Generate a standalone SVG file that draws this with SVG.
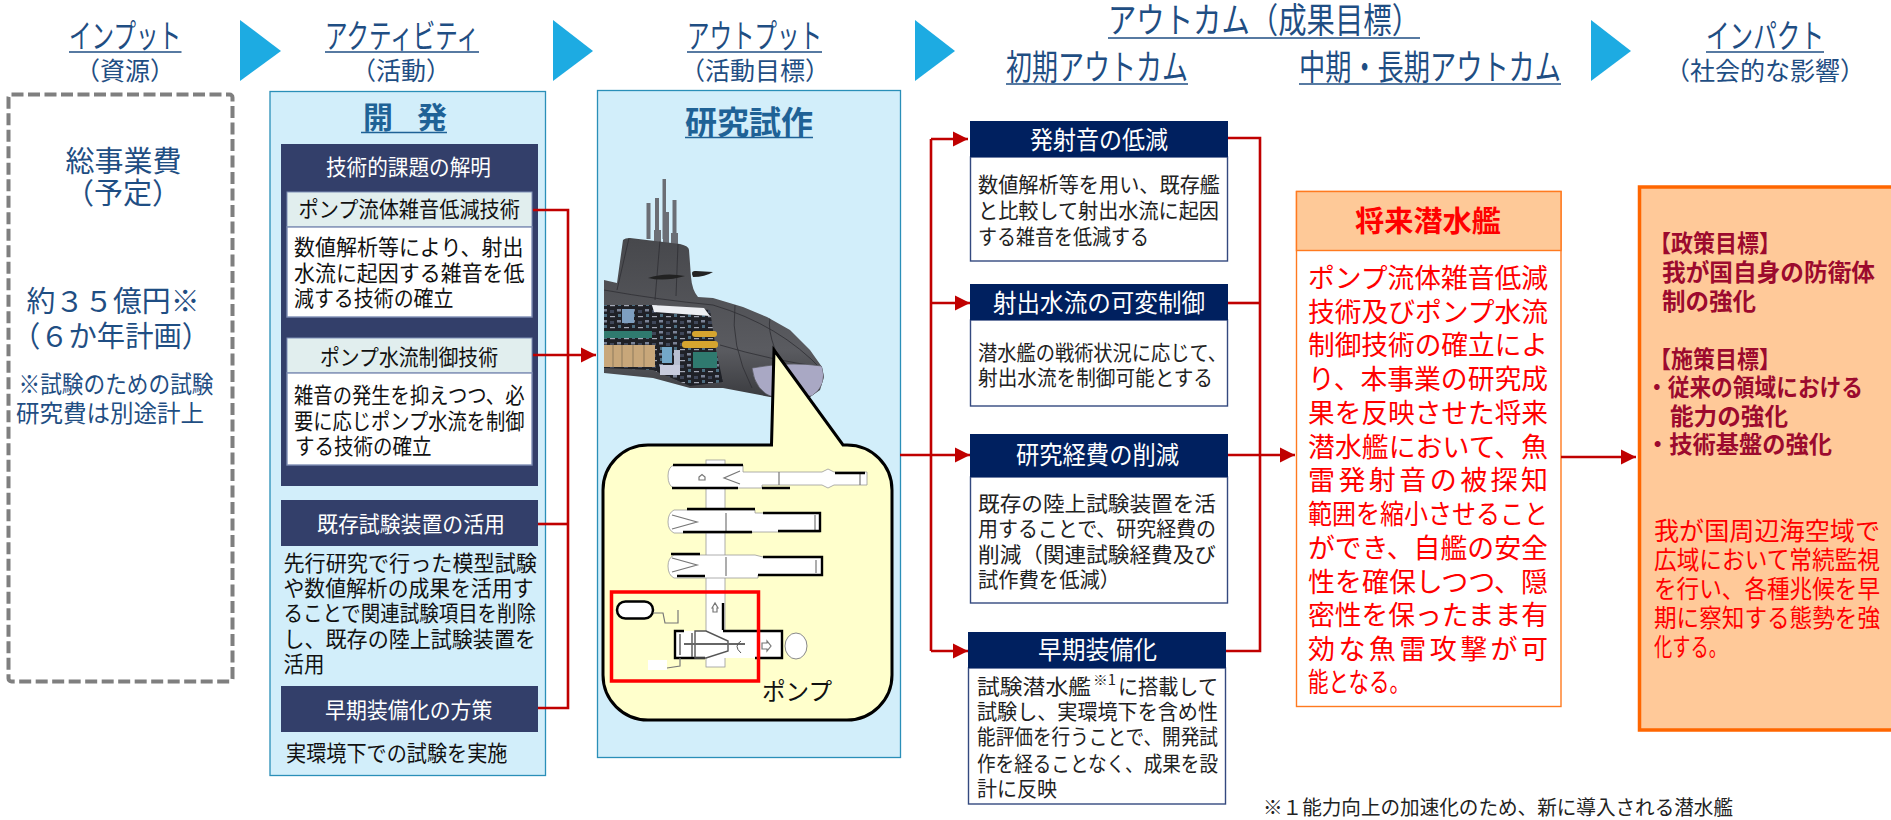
<svg xmlns="http://www.w3.org/2000/svg" width="1891" height="820" viewBox="0 0 1891 820">
<style>
text{font-family:"Noto Sans CJK JP","Noto Sans",sans-serif;}
.h{font-size:33px;fill:#1f4e83}
.h3{font-size:35px;fill:#1f4e83}
.h2{font-size:25px;fill:#1f4e83;text-anchor:middle}
.u{stroke:#1f4e83;stroke-width:1.4;fill:none}
.tri{fill:#1dabe2}
.pane{fill:#d2eefa;stroke:#2a8fb8;stroke-width:1.3}
.dark{fill:#333f6a}
.navy{fill:#00205f}
.sub{fill:#e1eeee;stroke:#7f8fb5;stroke-width:1}
.card{fill:#fff;stroke:#34497f;stroke-width:1.4}
.w{font-size:22px;fill:#fff}
.wt{font-size:25px;fill:#fff}
.b{font-size:22px;fill:#111}
.c{font-size:21px;fill:#222}
.r{font-size:27px;fill:#f00}
.im{font-size:23.5px;fill:#9c0a2e;font-weight:700}
.ir{font-size:25px;fill:#f00}
.lb{fill:#1f4e83}
.ti{fill:#1f6296;font-weight:700}
.blk{stroke:#000;stroke-width:2.4;fill:none}
.pipe{fill:#fff;stroke:#999;stroke-width:.8}
.gl{stroke:#777;stroke-width:1.2;fill:none}
.con{fill:none;stroke:#c00000;stroke-width:2.6}
.hl{fill:none;stroke:#2e2f33;stroke-width:.8}
</style>
<defs>
<marker id="ah" markerUnits="userSpaceOnUse" markerWidth="16" markerHeight="16" refX="15" refY="8" orient="auto"><path d="M0,0.5L15,8L0,15.5z" fill="#c00000"/></marker>
<clipPath id="subclip"><path d="M604,280L617,283L623,240Q625,238 630,238L680,244Q689,246 689,250L691,277Q692,290 698,297L713,298L743,307L767,317L790,330L810,350L822,367L824,377L820,390L810,397L790,398L770,397L723,388L690,388L653,378L604,373Z"/></clipPath>
<linearGradient id="hull" x1="0" y1="0" x2="0" y2="1"><stop offset="0" stop-color="#47484c"/><stop offset=".7" stop-color="#5a5b60"/><stop offset="1" stop-color="#3a3b3f"/></linearGradient>
<pattern id="mach" width="14" height="11" patternUnits="userSpaceOnUse"><rect width="14" height="11" fill="#1f2127"/><rect x="1" y="1" width="4" height="2.500" fill="#7a8396"/><rect x="8" y="2" width="4" height="3" fill="#3f4759"/><rect x="2" y="6" width="3" height="3" fill="#4d6d80"/><rect x="8" y="8" width="5" height="1.200" fill="#a4a9b6"/></pattern>
</defs>

<g id="headers">
<polygon class="tri" points="240,20 281,51 240,81"/>
<polygon class="tri" points="553,20 593,51 553,81"/>
<polygon class="tri" points="915,20 955,51 915,81"/>
<polygon class="tri" points="1591,20 1631,51 1591,81"/>
<text class="h" x="69" y="48" textLength="112" lengthAdjust="spacingAndGlyphs">インプット</text><path class="u" d="M69,52H181.500"/>
<text class="h2" x="125" y="80">（資源）</text>
<text class="h" x="325" y="48" textLength="154" lengthAdjust="spacingAndGlyphs">アクティビティ</text><path class="u" d="M325,52H479"/>
<text class="h2" x="401" y="80">（活動）</text>
<text class="h" x="687" y="48" textLength="135" lengthAdjust="spacingAndGlyphs">アウトプット</text><path class="u" d="M687,52H822"/>
<text class="h2" x="755" y="80">（活動目標）</text>
<text class="h3" x="1108" y="33" textLength="312" lengthAdjust="spacingAndGlyphs">アウトカム（成果目標）</text><path class="u" d="M1108,38H1420"/>
<text class="h3" x="1006" y="80" textLength="182" lengthAdjust="spacingAndGlyphs">初期アウトカム</text><path class="u" d="M1006,84H1188"/>
<text class="h3" x="1299" y="80" textLength="262" lengthAdjust="spacingAndGlyphs">中期・長期アウトカム</text><path class="u" d="M1299,84H1561"/>
<text class="h" x="1706" y="48" textLength="118" lengthAdjust="spacingAndGlyphs">インパクト</text><path class="u" d="M1706,52H1824"/>
<text class="h2" x="1765" y="80">（社会的な影響）</text>
</g>

<g id="input">
<rect x="8.500" y="94.500" width="224" height="587" rx="3" fill="#fff" stroke="#7f7f7f" stroke-width="4" stroke-dasharray="12 4.500"/>
<text class="lb" x="65.500" y="172" font-size="29" textLength="116" lengthAdjust="spacingAndGlyphs">総事業費</text>
<text class="lb" x="123" y="204" font-size="29" text-anchor="middle">（予定）</text>
<text class="lb" x="26.500" y="312" font-size="29" textLength="173" lengthAdjust="spacingAndGlyphs">約３５億円※</text>
<text class="lb" x="12" y="347" font-size="29" textLength="198" lengthAdjust="spacingAndGlyphs">（６か年計画）</text>
<text class="lb" x="18.500" y="393" font-size="24" textLength="195" lengthAdjust="spacingAndGlyphs">※試験のための試験</text>
<text class="lb" x="16" y="422" font-size="24" textLength="188" lengthAdjust="spacingAndGlyphs">研究費は別途計上</text>
</g>

<g id="activity">
<rect class="pane" x="270" y="91.500" width="275.500" height="684"/>
<text class="ti" x="363" y="128" font-size="30" textLength="84" lengthAdjust="spacing">開　発</text><path class="u" style="stroke:#1f6296" d="M361,132.500H447"/>
<rect class="dark" x="281" y="144" width="257" height="342"/>
<text class="w" x="326" y="175" textLength="165" lengthAdjust="spacingAndGlyphs">技術的課題の解明</text>
<rect class="sub" x="287" y="192" width="245" height="35"/>
<text class="b" x="298.500" y="217" textLength="221.500" lengthAdjust="spacingAndGlyphs">ポンプ流体雑音低減技術</text>
<rect class="card" style="stroke:#7f8fb5" x="287" y="227" width="245" height="90"/>
<text class="b" x="294" y="255" textLength="229.500" lengthAdjust="spacingAndGlyphs">数値解析等により、射出</text>
<text class="b" x="294" y="281" textLength="230.500" lengthAdjust="spacingAndGlyphs">水流に起因する雑音を低</text>
<text class="b" x="294" y="306" textLength="159.500" lengthAdjust="spacingAndGlyphs">減する技術の確立</text>
<rect class="sub" x="287" y="338" width="245" height="35"/>
<text class="b" x="320" y="365" textLength="178" lengthAdjust="spacingAndGlyphs">ポンプ水流制御技術</text>
<rect class="card" style="stroke:#7f8fb5" x="287" y="373" width="245" height="92"/>
<text class="b" x="294" y="403" textLength="230.500" lengthAdjust="spacingAndGlyphs">雑音の発生を抑えつつ、必</text>
<text class="b" x="294" y="429" textLength="230.500" lengthAdjust="spacingAndGlyphs">要に応じポンプ水流を制御</text>
<text class="b" x="295" y="454" textLength="136.500" lengthAdjust="spacingAndGlyphs">する技術の確立</text>
<rect class="dark" x="281" y="500" width="257" height="46"/>
<text class="w" x="317" y="532" textLength="188" lengthAdjust="spacingAndGlyphs">既存試験装置の活用</text>
<text class="b" x="283.500" y="571" textLength="253.500" lengthAdjust="spacingAndGlyphs">先行研究で行った模型試験</text>
<text class="b" x="283.500" y="596" textLength="250" lengthAdjust="spacingAndGlyphs">や数値解析の成果を活用す</text>
<text class="b" x="283.500" y="621" textLength="252.500" lengthAdjust="spacingAndGlyphs">ることで関連試験項目を削除</text>
<text class="b" x="283.500" y="647" textLength="252.500" lengthAdjust="spacingAndGlyphs">し、既存の陸上試験装置を</text>
<text class="b" x="283.500" y="672" textLength="41" lengthAdjust="spacingAndGlyphs">活用</text>
<rect class="dark" x="281" y="686" width="257" height="46"/>
<text class="w" x="325" y="718" textLength="167.500" lengthAdjust="spacingAndGlyphs">早期装備化の方策</text>
<text class="b" x="286" y="761" textLength="221.500" lengthAdjust="spacingAndGlyphs">実環境下での試験を実施</text>
</g>

<g id="output">
<rect class="pane" x="597.500" y="90.500" width="303" height="667"/>
<text class="ti" x="685" y="134" font-size="32" textLength="128" lengthAdjust="spacingAndGlyphs">研究試作</text><path class="u" style="stroke:#1f6296" d="M685,137.500H813"/>
<g id="submarine">
<g fill="#6b6e75"><rect x="646.500" y="203" width="4" height="36"/><rect x="655" y="198" width="4" height="44"/><rect x="662.500" y="179" width="3.500" height="60"/><rect x="663" y="212" width="6" height="32"/><rect x="672.500" y="200" width="4" height="44"/><rect x="654" y="230" width="7" height="14"/><rect x="671" y="233" width="7" height="11"/></g>
<path d="M604,280L617,283L623,240Q625,238 630,238L680,244Q689,246 689,250L691,277Q692,290 698,297L713,298L743,307L767,317L790,330L810,350L822,367L824,377L820,390L810,397L790,398L770,397L723,388L690,388L653,378L604,373Z" fill="url(#hull)"/>
<g clip-path="url(#subclip)">
<path class="hl" d="M604,290Q660,300 713,305Q780,325 822,370M629,238L617,290M660,240L655,300M678,244L676,296M735,305Q730,345 752,388M770,318Q765,340 800,400M720,345Q770,360 822,367"/>
<path d="M752,368Q790,361 822,366Q828,385 812,396L775,398Q755,392 752,368Z" fill="#a9a8c4" stroke="#55565c" stroke-width=".7"/>
<path d="M604,305L650,305L710,310L716,350L723,382L690,386L653,370L604,368Z" fill="url(#mach)"/>
<rect x="604" y="345" width="51" height="22" fill="#c8a77a"/>
<path d="M613,345V367M622,345V367M633,345V367M644,345V367" stroke="#8d7a5c" stroke-width="1"/>
<rect x="604" y="331" width="48" height="7" fill="#2f7a6f"/>
<rect x="622" y="309" width="12" height="14" fill="#7e9fc0"/>
<path d="M652,305L704,308L710,316L654,312Z" fill="#eceef2"/>
<rect x="662" y="347" width="10" height="16" fill="#74a8c8"/>
<rect x="674" y="350" width="6" height="16" fill="#b8bfd0"/>
<rect x="660" y="365" width="20" height="10" fill="#c7cbdc"/>
<rect x="682" y="341" width="36" height="7" rx="3" fill="#d6a52f"/>
<rect x="692" y="331" width="25" height="6" rx="3" fill="#d6a52f"/>
<rect x="693" y="352" width="24" height="16" fill="#2f7a6f"/>
</g>
<path d="M648,278Q665,272 685,276Q665,282 648,278Z" fill="#222"/>
<path d="M693,277Q690,270 696,271L713,272Q705,277 693,277Z" fill="#222"/>
</g>
<g id="callout">
<path d="M648,445H771.500L774,350L843,445H847A45,45 0 0 1 892,490V675A45,45 0 0 1 847,720H648A45,45 0 0 1 603,675V490A45,45 0 0 1 648,445Z" fill="#ffffcc" stroke="#000" stroke-width="3"/>
<rect class="pipe" x="706" y="460" width="19" height="207"/>
<path class="pipe" d="M674,465H743V472H822L828,469L834,472H867V485H834L828,488L822,485H762V488H674Q668,486 668,476Q668,467 674,465Z"/>
<path class="pipe" d="M674,510H755V513H820V532H752V533H674Q668,530 668,522Q668,513 674,510Z"/>
<path class="pipe" d="M674,555H755L763,557H822V575H758V578H674Q668,575 668,566Q668,558 674,555Z"/>
<path class="gl" d="M740,471L724,478L740,484M779,472V485M672,515L697,522L672,529M726,513V532M815,515V530M672,558L697,565L672,572M726,557V576M816,560V573M860,473V485"/>
<path class="gl" d="M699,477L702,474.500L705,477L705,480L699,480Z"/>
<path class="blk" d="M673,465H743M672,488H738M762,488H790M835,473H865M687,509H755M763,513H820V531H778M683,532H752M671,554H700M763,557H822V575H758M677,576H705"/>
<rect class="pipe" x="674" y="631" width="108" height="27" style="stroke:none"/>
<path class="blk" d="M723,603V630M723,631H782V658H755M705,658H675V631H684"/>
<path d="M680,634V655M692,633V657M695,631H706L728,641V651L706,658H695Z" stroke="#555" stroke-width="1.400" fill="none"/>
<path d="M684,644H745" stroke="#666" stroke-width="2"/>
<path d="M741,641Q733,646 741,653" stroke="#555" stroke-width="1" fill="none"/>
<path class="gl" d="M712,608L715,603L718,608H717V612H713V608Z"/>
<path class="gl" d="M762,643H767V641L771,646L767,651V649H762Z"/>
<ellipse cx="796" cy="646" rx="11" ry="13" fill="#fff" stroke="#888" stroke-width="1"/>
<rect x="617" y="601.500" width="36" height="17" rx="8.500" fill="#fff" stroke="#000" stroke-width="2.500"/>
<path class="gl" d="M653,613H663L665,623H678V610"/>
<path class="gl" d="M667,668L680,666V658"/>
<rect x="648" y="660" width="19" height="10" fill="#fff"/>
<rect x="611.500" y="592" width="147" height="89" fill="none" stroke="#f00" stroke-width="3.500"/>
<text x="762" y="700" font-size="24" fill="#111" textLength="70" lengthAdjust="spacingAndGlyphs">ポンプ</text>
</g>
</g>

<g id="outcome1">
<rect class="card" x="970.500" y="157" width="257" height="104"/><rect class="navy" x="970" y="121" width="258" height="36"/>
<text class="wt" x="1030" y="149" textLength="138" lengthAdjust="spacingAndGlyphs">発射音の低減</text>
<text class="c" x="978" y="192" textLength="242" lengthAdjust="spacingAndGlyphs">数値解析等を用い、既存艦</text>
<text class="c" x="978" y="218" textLength="241" lengthAdjust="spacingAndGlyphs">と比較して射出水流に起因</text>
<text class="c" x="978" y="244" textLength="171" lengthAdjust="spacingAndGlyphs">する雑音を低減する</text>
</g>
<g id="outcome2">
<rect class="card" x="970.500" y="320" width="257" height="86"/><rect class="navy" x="970" y="284" width="258" height="36"/>
<text class="wt" x="993" y="312" textLength="212" lengthAdjust="spacingAndGlyphs">射出水流の可変制御</text>
<text class="c" x="978" y="360" textLength="249" lengthAdjust="spacingAndGlyphs">潜水艦の戦術状況に応じて、</text>
<text class="c" x="978" y="385" textLength="235" lengthAdjust="spacingAndGlyphs">射出水流を制御可能とする</text>
</g>
<g id="outcome3">
<rect class="card" x="970.500" y="477" width="257" height="126"/><rect class="navy" x="970" y="434" width="258" height="43"/>
<text class="wt" x="1016" y="464" textLength="163" lengthAdjust="spacingAndGlyphs">研究経費の削減</text>
<text class="c" x="978" y="511" textLength="238" lengthAdjust="spacingAndGlyphs">既存の陸上試験装置を活</text>
<text class="c" x="978" y="536" textLength="238" lengthAdjust="spacingAndGlyphs">用することで、研究経費の</text>
<text class="c" x="978" y="562" textLength="238" lengthAdjust="spacingAndGlyphs">削減（関連試験経費及び</text>
<text class="c" x="978" y="587" textLength="142" lengthAdjust="spacingAndGlyphs">試作費を低減）</text>
</g>
<g id="outcome4">
<rect class="card" x="968.500" y="668" width="257" height="136"/><rect class="navy" x="968" y="632" width="258" height="36"/>
<text class="wt" x="1038" y="659" textLength="119" lengthAdjust="spacingAndGlyphs">早期装備化</text>
<text class="c" y="694"><tspan x="977" textLength="114" lengthAdjust="spacingAndGlyphs">試験潜水艦</tspan><tspan x="1093" y="685" font-size="14" textLength="23" lengthAdjust="spacingAndGlyphs">※1</tspan><tspan x="1118" y="694" textLength="100" lengthAdjust="spacingAndGlyphs">に搭載して</tspan></text>
<text class="c" x="977" y="719" textLength="241" lengthAdjust="spacingAndGlyphs">試験し、実環境下を含め性</text>
<text class="c" x="977" y="744" textLength="241" lengthAdjust="spacingAndGlyphs">能評価を行うことで、開発試</text>
<text class="c" x="977" y="771" textLength="241" lengthAdjust="spacingAndGlyphs">作を経ることなく、成果を設</text>
<text class="c" x="977" y="796" textLength="80" lengthAdjust="spacingAndGlyphs">計に反映</text>
</g>

<g id="future">
<rect x="1296.500" y="191.500" width="264.500" height="515" fill="#fff" stroke="#ff7a1f" stroke-width="1.400"/>
<rect x="1296.500" y="191.500" width="264.500" height="59" fill="#fec998" stroke="#ff7a1f" stroke-width="1.400"/>
<text x="1355" y="232" font-size="29" font-weight="700" fill="#f00" textLength="146" lengthAdjust="spacingAndGlyphs">将来潜水艦</text>
<text class="r" x="1308" y="288" textLength="240" lengthAdjust="spacingAndGlyphs">ポンプ流体雑音低減</text>
<text class="r" x="1308" y="322" textLength="240" lengthAdjust="spacingAndGlyphs">技術及びポンプ水流</text>
<text class="r" x="1308" y="355" textLength="240" lengthAdjust="spacingAndGlyphs">制御技術の確立によ</text>
<text class="r" x="1308" y="389" textLength="240" lengthAdjust="spacingAndGlyphs">り、本事業の研究成</text>
<text class="r" x="1308" y="423" textLength="240" lengthAdjust="spacingAndGlyphs">果を反映させた将来</text>
<text class="r" x="1308" y="457" textLength="240" lengthAdjust="spacingAndGlyphs">潜水艦において、魚</text>
<text class="r" x="1308" y="490" textLength="240" lengthAdjust="spacing">雷発射音の被探知</text>
<text class="r" x="1308" y="524" textLength="240" lengthAdjust="spacingAndGlyphs">範囲を縮小させること</text>
<text class="r" x="1308" y="558" textLength="240" lengthAdjust="spacingAndGlyphs">ができ、自艦の安全</text>
<text class="r" x="1308" y="592" textLength="240" lengthAdjust="spacingAndGlyphs">性を確保しつつ、隠</text>
<text class="r" x="1308" y="625" textLength="240" lengthAdjust="spacingAndGlyphs">密性を保ったまま有</text>
<text class="r" x="1308" y="659" textLength="240" lengthAdjust="spacing">効な魚雷攻撃が可</text>
<text class="r" x="1308" y="692" textLength="102" lengthAdjust="spacingAndGlyphs">能となる。</text>
</g>

<g id="impact">
<rect x="1639.500" y="187" width="260" height="543" fill="#ffc999" stroke="#ff6600" stroke-width="3.500"/>
<text class="im" x="1649" y="252" textLength="132" lengthAdjust="spacingAndGlyphs">【政策目標】</text>
<text class="im" x="1662" y="281" textLength="213" lengthAdjust="spacingAndGlyphs">我が国自身の防衛体</text>
<text class="im" x="1662" y="310" textLength="94" lengthAdjust="spacingAndGlyphs">制の強化</text>
<text class="im" x="1649" y="368" textLength="132" lengthAdjust="spacingAndGlyphs">【施策目標】</text>
<text class="im" x="1646" y="396" textLength="217" lengthAdjust="spacingAndGlyphs">・従来の領域における</text>
<text class="im" x="1670" y="425" textLength="118" lengthAdjust="spacingAndGlyphs">能力の強化</text>
<text class="im" x="1646" y="453" textLength="186" lengthAdjust="spacingAndGlyphs">・技術基盤の強化</text>
<text class="ir" x="1654" y="540" textLength="226" lengthAdjust="spacingAndGlyphs">我が国周辺海空域で</text>
<text class="ir" x="1654" y="569" textLength="226" lengthAdjust="spacingAndGlyphs">広域において常続監視</text>
<text class="ir" x="1654" y="598" textLength="226" lengthAdjust="spacingAndGlyphs">を行い、各種兆候を早</text>
<text class="ir" x="1654" y="627" textLength="226" lengthAdjust="spacingAndGlyphs">期に察知する態勢を強</text>
<text class="ir" x="1654" y="656" textLength="73" lengthAdjust="spacingAndGlyphs">化する。</text>
</g>

<g id="footnote">
<text x="1263" y="815" font-size="20" fill="#222" textLength="470" lengthAdjust="spacingAndGlyphs">※１能力向上の加速化のため、新に導入される潜水艦</text>
</g>

<g id="connectors">
<path class="con" d="M533,210H568V708H538"/>
<path class="con" d="M538,524H568"/>
<path class="con" marker-end="url(#ah)" d="M533,355H596"/>
<path class="con" d="M931,651V139"/>
<path class="con" marker-end="url(#ah)" d="M931,139H968"/>
<path class="con" marker-end="url(#ah)" d="M931,303H970"/>
<path class="con" marker-end="url(#ah)" d="M931,651H968"/>
<path class="con" marker-end="url(#ah)" d="M900,455H970"/>
<path class="con" d="M1228,138H1260V651H1226"/>
<path class="con" d="M1228,303H1260"/>
<path class="con" marker-end="url(#ah)" d="M1228,455H1295"/>
<path class="con" marker-end="url(#ah)" d="M1561,457H1636"/>
</g>
</svg>
